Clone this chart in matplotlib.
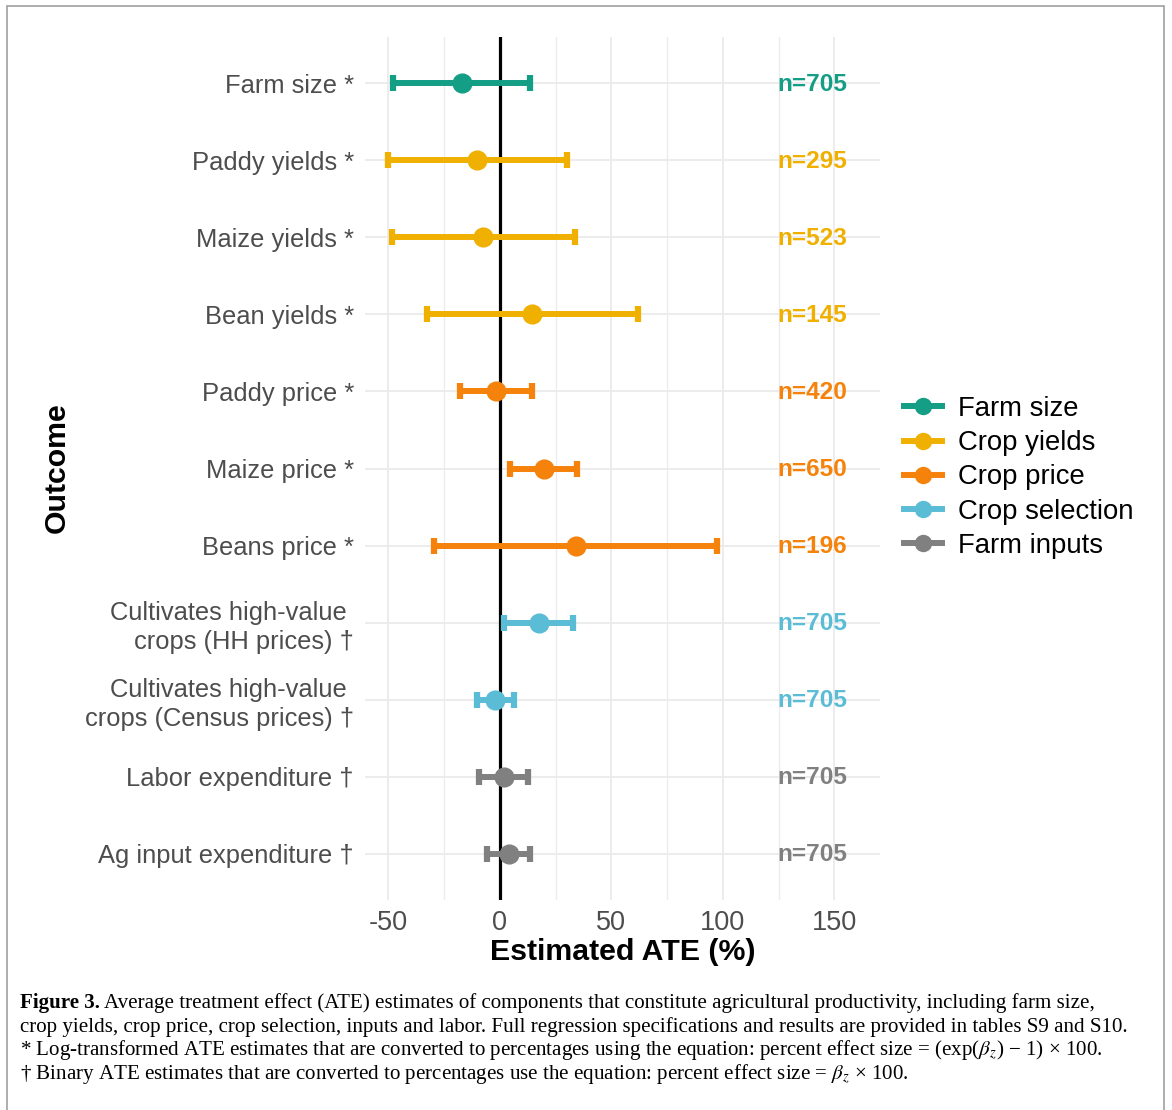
import matplotlib
matplotlib.use("Agg")
import matplotlib.pyplot as plt
from matplotlib.lines import Line2D
from matplotlib.patches import Rectangle

plt.rcParams['font.family'] = ['Liberation Sans', 'DejaVu Sans']
plt.rcParams['mathtext.fontset'] = 'stix'

outcomes = ["Farm size *", "Paddy yields *", "Maize yields *", "Bean yields *",
            "Paddy price *", "Maize price *", "Beans price *",
            "Cultivates high-value \ncrops (HH prices) †",
            "Cultivates high-value \ncrops (Census prices) †",
            "Labor expenditure †", "Ag input expenditure †"]
groups = ["Farm size", "Crop yields", "Crop yields", "Crop yields",
          "Crop price", "Crop price", "Crop price",
          "Crop selection", "Crop selection", "Farm inputs", "Farm inputs"]
estimate = [-17.2, -10.1, -7.5, 14.2, -1.9, 19.6, 34.0, 17.7, -2.2, 1.8, 4.3]
lower = [-47.8, -50.0, -48.2, -32.8, -17.8, 4.7, -29.7, 1.8, -10.4, -9.3, -5.9]
upper = [13.4, 29.9, 33.6, 61.9, 14.4, 34.7, 97.2, 33.0, 6.5, 12.6, 13.4]
n_obs = [705, 295, 523, 145, 420, 650, 196, 705, 705, 705, 705]

group_order = ["Farm size", "Crop yields", "Crop price", "Crop selection", "Farm inputs"]
group_colors = {"Farm size": "#139E85", "Crop yields": "#EFB000",
                "Crop price": "#F5820A", "Crop selection": "#5BBCD6",
                "Farm inputs": "#808080"}
x_ticks = [-50, 0, 50, 100, 150]

W, H = 1172, 1110
fig = plt.figure(figsize=(W / 100, H / 100), dpi=100)
fig.patch.set_facecolor("white")

# border
fig.add_artist(Rectangle((7 / W, -0.01), (1164 - 7) / W, 1.01 - 6 / H,
                         transform=fig.transFigure, fill=False,
                         edgecolor="#A0A0A0", linewidth=1.2))

L, R, T, B = 365, 880, 37, 900
ax = fig.add_axes([L / W, 1 - B / H, (R - L) / W, (B - T) / H])
nrow = len(outcomes)
ypos = [nrow - i for i in range(nrow)]

ax.set_xlim(-60.5, 170.5)
ax.set_ylim(0.4, nrow + 0.6)
for s in ax.spines.values():
    s.set_visible(False)

# grid
for gx in range(-50, 175, 25):
    ax.axvline(gx, color="#EBEBEB", lw=1.3 if gx % 50 == 0 else 0.9, zorder=0)
for y in ypos:
    ax.axhline(y, color="#EBEBEB", lw=1.3, zorder=0)

ax.axvline(0, color="black", lw=2.3, zorder=2)

for i in range(nrow):
    c = group_colors[groups[i]]
    ax.errorbar([estimate[i]], [ypos[i]],
                xerr=[[estimate[i] - lower[i]], [upper[i] - estimate[i]]],
                fmt="o", color=c, ecolor=c, elinewidth=4.3, capsize=5.5,
                capthick=4.5, markersize=13.5, zorder=3)
    ax.text(140, ypos[i] - 0.012, f"n={n_obs[i]}", color=c, fontsize=17.6,
            fontweight="bold", ha="center", va="center")

ax.set_yticks(ypos)
ax.set_yticklabels(outcomes, fontsize=18.4, color="#4D4D4D", linespacing=1.24)
ax.set_xticks(x_ticks)
ax.set_xticklabels([str(v) for v in x_ticks], fontsize=19.5, color="#4D4D4D")
ax.tick_params(axis="both", length=0)
ax.tick_params(axis="y", pad=8)
ax.tick_params(axis="x", pad=7)

ax.set_xlabel("Estimated ATE (%)", fontsize=21.8, fontweight="bold",
              color="black", labelpad=2)
fig.text(57 / W, 1 - 468 / H, "Outcome", rotation=90, fontsize=21.8,
         fontweight="bold", ha="center", va="center")

handles = [Line2D([0], [0], color=group_colors[g], marker="o", markersize=11.5,
                  linewidth=4.3) for g in group_order]
fig.legend(handles, group_order, loc="center left",
           bbox_to_anchor=(904 / W, 1 - 477.5 / H), frameon=False,
           fontsize=19.8, handlelength=1.38, handletextpad=0.6,
           labelspacing=0.3, borderpad=0, borderaxespad=0)

# caption
cap_font = ['Liberation Serif', 'DejaVu Serif']
cfs = 15.1
x0 = 20 / W
lines_y = [1003, 1027, 1050, 1074]
fig.canvas.draw()
r = fig.canvas.get_renderer()
t = fig.text(x0, 1 - lines_y[0] / H, "Figure 3.", fontsize=cfs,
             fontweight="bold", family=cap_font, va="center")
bb = t.get_window_extent(renderer=r)
fig.text(bb.x1 / W + 4 / W, 1 - lines_y[0] / H,
         "Average treatment effect (ATE) estimates of components that constitute agricultural productivity, including farm size,",
         fontsize=cfs, family=cap_font, va="center")
fig.text(x0, 1 - lines_y[1] / H,
         "crop yields, crop price, crop selection, inputs and labor. Full regression specifications and results are provided in tables S9 and S10.",
         fontsize=cfs, family=cap_font, va="center")
fig.text(x0, 1 - lines_y[2] / H,
         r"* Log-transformed ATE estimates that are converted to percentages using the equation: percent effect size = (exp($\beta_z$) − 1) × 100.",
         fontsize=cfs, family=cap_font, va="center")
fig.text(x0, 1 - lines_y[3] / H,
         r"† Binary ATE estimates that are converted to percentages use the equation: percent effect size = $\beta_z$ × 100.",
         fontsize=cfs, family=cap_font, va="center")

fig.savefig("out.png", dpi=100, facecolor="white")
